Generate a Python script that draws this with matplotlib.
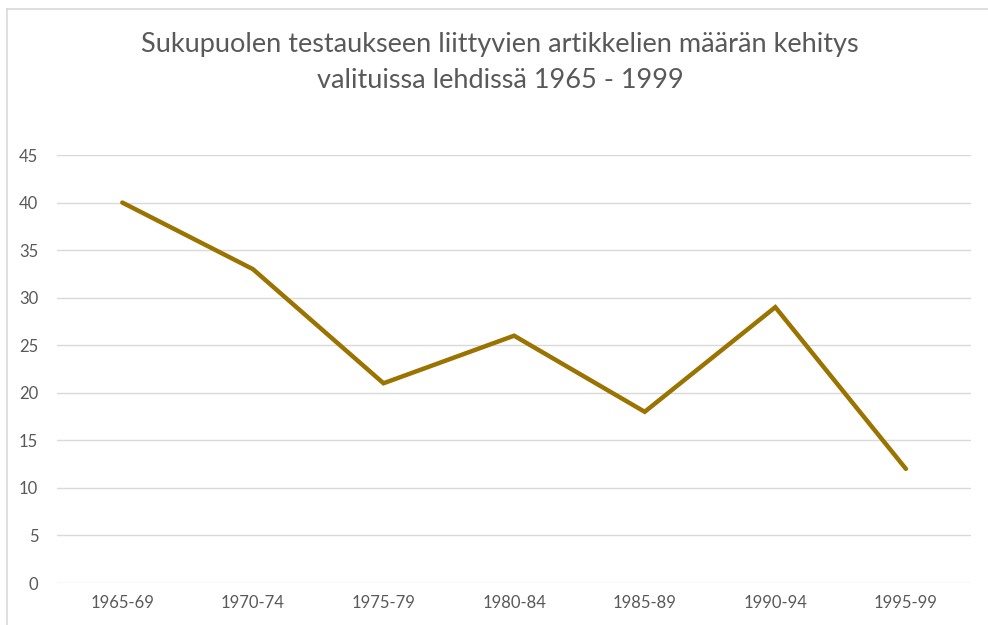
import matplotlib.pyplot as plt
from matplotlib.lines import Line2D

plt.rcParams['font.family'] = ['Lato', 'DejaVu Sans']

periods = ['1965-69', '1970-74', '1975-79', '1980-84', '1985-89', '1990-94', '1995-99']
articles = [40, 33, 21, 26, 18, 29, 12]
y_ticks = [0, 5, 10, 15, 20, 25, 30, 35, 40, 45]

title_lines = ['Sukupuolen testaukseen liittyvien artikkelien määrän kehitys',
               'valituissa lehdissä 1965 - 1999']

text_col = '#595959'
grid_col = '#d9d9d9'
line_col = '#9a7300'

fig = plt.figure(figsize=(9.88, 6.25), dpi=100)
ax = fig.add_axes([0.0577, 0.0672, 0.9253, 0.6848])

x = list(range(len(periods)))
ax.plot(x, articles, color=line_col, linewidth=3.2, solid_capstyle='round', solid_joinstyle='miter')

ax.set_xlim(-0.5, len(periods) - 0.5)
ax.set_ylim(0, 45)
ax.set_yticks(y_ticks)
ax.set_xticks(x)
ax.set_xticklabels(periods)
ax.grid(axis='y', color=grid_col, linewidth=1)
ax.set_axisbelow(True)
for s in ax.spines.values():
    s.set_visible(False)
ax.tick_params(axis='both', length=0, colors=text_col, labelsize=12)
ax.tick_params(axis='y', pad=13.5)
ax.tick_params(axis='x', pad=9)

# two-line title, each line placed on its own baseline
for line, yb in zip(title_lines, [52, 88]):
    fig.text(0.506, 1 - yb / 625, line, ha='center', va='baseline',
             fontsize=19.5, color=text_col)

# outer chart border (only top and left visible in the crop)
fig.add_artist(Line2D([6.5 / 988, 6.5 / 988], [0, 1 - 8.5 / 625], color=grid_col, linewidth=1.2))
fig.add_artist(Line2D([6.5 / 988, 1], [1 - 8.5 / 625, 1 - 8.5 / 625], color=grid_col, linewidth=1.2))

fig.savefig('out.png', dpi=100, facecolor='white')
